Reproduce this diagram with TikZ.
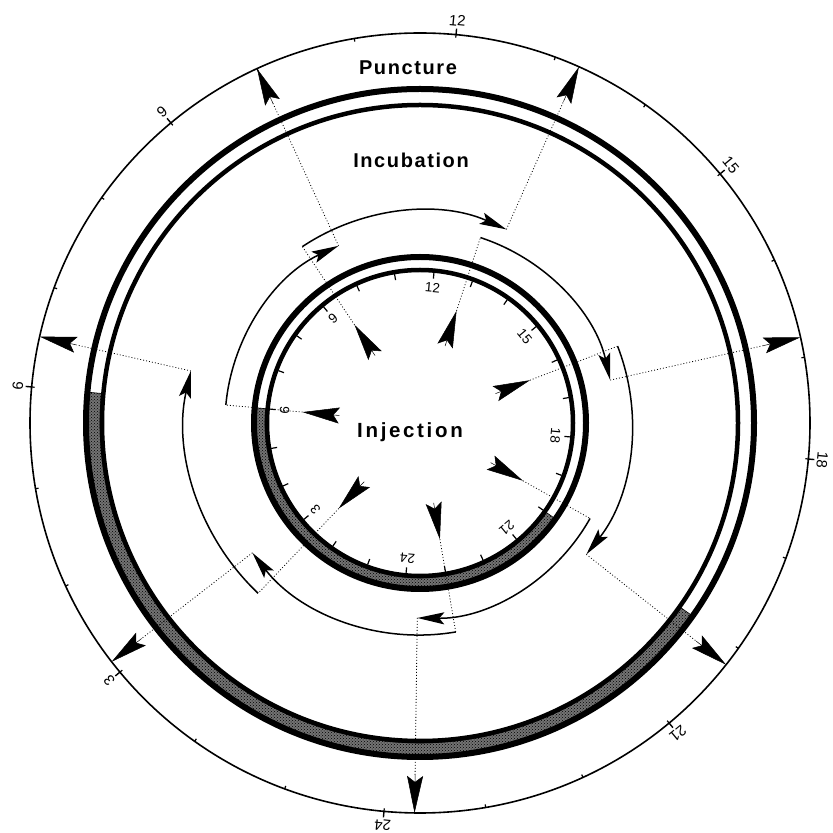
\documentclass[tikz,border=0pt]{standalone}
\usepackage{fontspec}
\setmainfont{Liberation Sans}
\newfontfamily\titlefont[LetterSpace=8]{Liberation Sans}
\newfontfamily\injfont[LetterSpace=13]{Liberation Sans}
\usetikzlibrary{arrows.meta,patterns}
\def\R{264.7}
\tikzset{
  dots/.style={line width=0.8pt, dash pattern=on 0.9pt off 2.1pt},
  arcline/.style={line width=1.5pt, -{Stealth[length=27pt,width=12pt,inset=5pt]}},
  bigarrow/.style={line width=0.5pt, -{Stealth[length=37pt,width=16pt,inset=6pt]}},
  shadeband/.style={preaction={fill=black!55}, pattern=crosshatch dots, pattern color=black, draw=black, line width=0.6pt},
  title/.style={font=\titlefont\bfseries\fontsize{20}{20}\selectfont},
  outlab/.style={font=\fontsize{15}{15}\selectfont, inner sep=0pt},
  inlab/.style={font=\fontsize{13.5}{13.5}\selectfont, inner sep=0pt},
}
\begin{document}
\begin{tikzpicture}[x=1pt,y=1pt]
\useasboundingbox (0,0) rectangle (833,833);
\fill[white] (0,0) rectangle (833,833);
\begin{scope}[shift={(420,410)}]
  % outer clock circle
  \draw[line width=1.6pt] (0,0) circle[radius=390pt];
  \foreach \t in {1,...,24} {
    \draw[line width=1.2pt] ({\R-15*\t}:387) -- ({\R-15*\t}:390);
  }
  \foreach \t in {3,6,...,24} {
    \draw[line width=1.4pt] ({\R-15*\t}:390) -- ({\R-15*\t}:396);
    \node[outlab, rotate={\R-15*\t-90}] (ol\t) at ({\R-15*\t}:404) {\t};
  }
  % puncture ring
  \path[shadeband] (174.7:320) arc[start angle=174.7, end angle=324.7, radius=320pt]
      -- (324.7:332) arc[start angle=324.7, end angle=174.7, radius=332pt] -- cycle;
  \draw[line width=6pt] (0,0) circle[radius=334pt];
  \draw[line width=4.5pt] (0,0) circle[radius=318pt];
  % inner clock ring
  \path[shadeband] (174.7:155) arc[start angle=174.7, end angle=324.7, radius=155pt]
      -- (324.7:164) arc[start angle=324.7, end angle=174.7, radius=164pt] -- cycle;
  \draw[line width=6pt] (0,0) circle[radius=166pt];
  \draw[line width=4.5pt] (0,0) circle[radius=153pt];
  \foreach \t in {1,...,24} {
    \draw[line width=1.2pt] ({\R-15*\t}:151) -- ({\R-15*\t}:145);
  }
  \foreach \t in {3,6,...,24} {
    \node[inlab, rotate={\R-15*\t-90}] (il\t) at ({\R-15*\t}:136) {\t};
  }
  % injection -> incubation -> puncture chains
  \foreach \n/\ts/\te/\r in {1/6/10/195, 2/9.4/13.25/212, 3/12.85/16.8/195,
        4/16.23/20.2/212, 5/19.6/23.7/195, 6/23/27.13/212, 7/2.55/6.5/235} {
    \pgfmathsetmacro\as{\R-15*\ts}
    \pgfmathsetmacro\ae{\R-15*\te}
    \coordinate (ib\n) at (\as:81);
    \coordinate (it\n) at (\as:118);
    \coordinate (s\n) at (\as:\r);
    \coordinate (e\n) at (\ae:\r);
    \coordinate (ob\n) at (\ae:352);
    \coordinate (ot\n) at (\ae:390);
    \draw[dots] (it\n) -- (s\n);
    \draw[arcline] (s\n) arc[start angle=\as, end angle=\ae, radius=\r pt];
    \draw[dots] (e\n) -- (ob\n);
    \draw[bigarrow] (ib\n) -- (it\n);
    \draw[bigarrow] (ob\n) -- (ot\n);
  }
\end{scope}
\node[title] (punct) at (408,765) {Puncture};
\node[title] (incub) at (411,673) {Incubation};
\node[font=\injfont\bfseries\fontsize{20.5}{20.5}\selectfont] (inject) at (410,401) {Injection};
\end{tikzpicture}
\end{document}
